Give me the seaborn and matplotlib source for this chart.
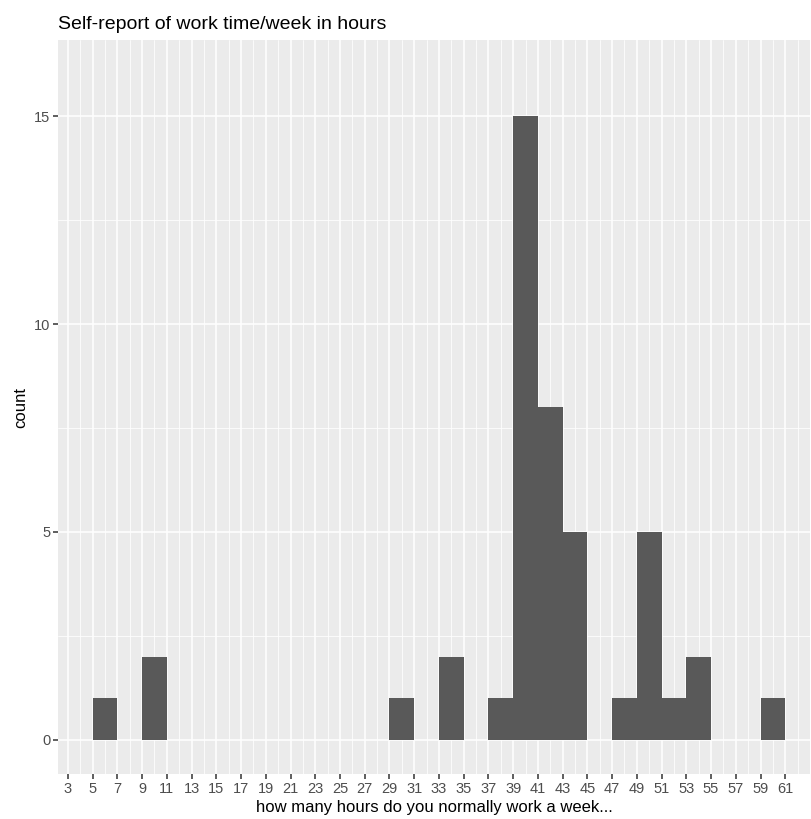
import matplotlib
matplotlib.use("Agg")
import matplotlib.pyplot as plt
import seaborn as sns
import numpy as np

# histogram of self-reported work hours, bins of width 2
bin_edges = [5, 7, 9, 11, 13, 15, 17, 19, 21, 23, 25, 27, 29, 31, 33, 35, 37, 39,
             41, 43, 45, 47, 49, 51, 53, 55, 57, 59, 61]
bin_counts = [1, 0, 2, 0, 0, 0, 0, 0, 0, 0, 0, 0, 1, 0, 2, 0, 1, 15,
              8, 5, 0, 1, 5, 1, 2, 0, 0, 1]
x_ticks = list(range(3, 62, 2))
y_ticks = [0, 5, 10, 15]

bin_mids = [(a + b) / 2 for a, b in zip(bin_edges[:-1], bin_edges[1:])]

sns.set_style("darkgrid", {"axes.facecolor": "#EBEBEB", "grid.color": "white"})
plt.rcParams['font.family'] = ['Liberation Sans', 'DejaVu Sans']

fig = plt.figure(figsize=(8.11, 8.19), dpi=100)
ax = fig.add_axes([58 / 811, 45 / 819, 752 / 811, 734 / 819])

sns.histplot(x=bin_mids, weights=bin_counts, bins=bin_edges, ax=ax,
             color="#595959", alpha=1, edgecolor="none", linewidth=0, zorder=3)

ax.set_xlim(2.2, 63.0)
ax.set_ylim(-0.82, 16.83)
ax.set_xticks(x_ticks)
ax.set_yticks(y_ticks)
ax.set_xticks([x + 1 for x in x_ticks], minor=True)
ax.set_yticks([2.5, 7.5, 12.5], minor=True)
ax.grid(which="major", color="white", linewidth=1.1, zorder=0)
ax.grid(which="minor", color="white", linewidth=0.55, zorder=0)
ax.set_axisbelow(True)
for s in ax.spines.values():
    s.set_visible(False)

ax.tick_params(axis="both", which="major", bottom=True, left=True,
               length=3.5, width=1.1, color="#333333",
               labelcolor="#4D4D4D", labelsize=10.5, pad=2)
ax.tick_params(axis="both", which="minor", bottom=False, left=False, length=0)

ax.set_xlabel("how many hours do you normally work a week...", fontsize=12,
              color="black", labelpad=3)
ax.set_ylabel("count", fontsize=12, color="black", labelpad=4)
ax.set_title("Self-report of work time/week in hours", fontsize=14,
             loc="left", pad=8, color="black")

fig.savefig("out.png", dpi=100)
